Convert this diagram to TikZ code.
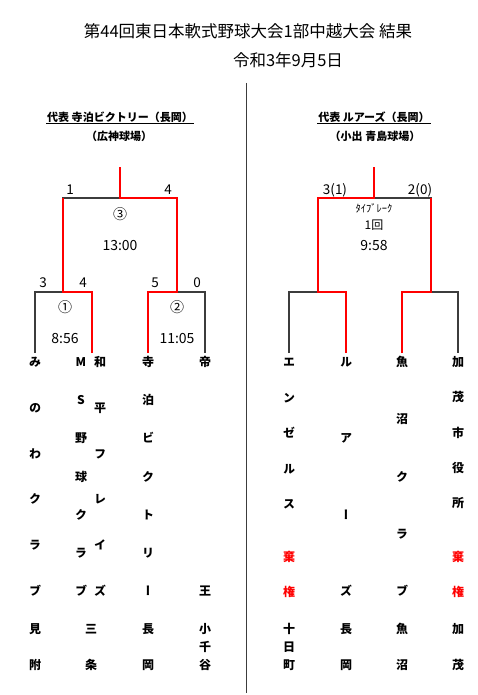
\documentclass[tikz,border=0pt]{standalone}
\usepackage{fontspec}
\newfontfamily\jpfont{Noto Sans CJK JP}
\newfontfamily\jpvert{Noto Sans CJK JP}[RawFeature=+vert]
\definecolor{winner}{HTML}{ff0000}
\definecolor{bracket}{HTML}{3c3c3c}

\begin{document}
\begin{tikzpicture}[
  x=1pt, y=-1pt,
  line join=miter,
  every node/.style={font=\jpfont, inner sep=1pt},
  bracket/.style={draw=bracket, line width=1.2pt},
  winner/.style={draw=winner, line width=2.6pt},
  title/.style={font=\jpfont\fontsize{16.5}{18}\selectfont},
  header/.style={font=\jpfont\bfseries\fontsize{11}{13}\selectfont},
  score/.style={font=\jpfont\fontsize{13.5}{15}\selectfont},
  gameno/.style={font=\jpfont\fontsize{14}{16}\selectfont},
  namechar/.style={font=\jpvert\bfseries\fontsize{12}{13}\selectfont,
    inner sep=0pt, text height=9.5pt, text depth=2.5pt, outer sep=4pt},
  forfeit/.style={namechar, text=winner},
]
\useasboundingbox (0,0) rectangle (478,695);
\node[title] (title) at (248,31) {第44回東日本軟式野球大会1部中越大会 結果};
\node[title] (date) at (288,60) {令和3年9月5日};
\draw[draw=bracket, line width=1.6pt] (246.5,83) -- (246.5,693);

% left: 広神球場
\node[header] (hdL) at (120,117) {代表 寺泊ビクトリー（長岡）};
\draw[line width=0.8pt] (hdL.south west) -- (hdL.south east);
\node[header] (parkL) at (119,136) {（広神球場）};
\foreach \ch [count=\k from 0] in {み,の,わ,ク,ラ,ブ}
  \node[namechar] (minowa-\k) at (35,363+45.8*\k) {\ch};
\foreach \ch [count=\k from 0] in {M,S,野,球,ク,ラ,ブ}
  \node[namechar] (ms-\k) at (81,363+38.17*\k) {\ch};
\foreach \ch [count=\k from 0] in {和,平,フ,レ,イ,ズ}
  \node[namechar] (wahei-\k) at (100,363+45.8*\k) {\ch};
\foreach \ch [count=\k from 0] in {寺,泊,ビ,ク,ト,リ,ー}
  \node[namechar] (tera-\k) at (148,363+38.17*\k) {\ch};
\foreach \ch [count=\k from 0] in {帝,王}
  \node[namechar] (teio-\k) at (205,363+229*\k) {\ch};
\foreach \ch [count=\k from 0] in {見,附}
  \node[namechar] (mitsuke-\k) at (35,630+36*\k) {\ch};
\foreach \ch [count=\k from 0] in {三,条}
  \node[namechar] (sanjo-\k) at (91,630+36*\k) {\ch};
\foreach \ch [count=\k from 0] in {長,岡}
  \node[namechar] (nagaokaL-\k) at (148,630+36*\k) {\ch};
\foreach \ch [count=\k from 0] in {小,千,谷}
  \node[namechar] (ojiya-\k) at (205,630+18*\k) {\ch};

\coordinate (L-win) at (120,167);
\coordinate (L-top) at (120,198);
\coordinate (g1-top) at (63,198);
\coordinate (g2-top) at (177,198);
\coordinate (g1-mid) at (63,292);
\coordinate (g2-mid) at (177,292);
\coordinate (pair) at (92,353);
\draw[bracket] (minowa-0.north) |- (g1-mid) -| (pair);
\draw[bracket] (tera-0.north) |- (g2-mid) -| (teio-0.north);
\draw[bracket] (g1-mid) |- (L-top) -| (g2-mid);
\draw[winner] (pair) |- (g1-mid) -- (g1-top);
\draw[winner] (tera-0.north) |- (g2-mid) -- (g2-top) -- (L-top) -- (L-win);

\node[score] (s3a) at (70,190) {1};
\node[score] (s3b) at (168,190) {4};
\node[score] (s1a) at (43,283) {3};
\node[score] (s1b) at (83,283) {4};
\node[score] (s2a) at (155,283) {5};
\node[score] (s2b) at (197,283) {0};
\node[gameno] (g3) at (120,214) {③};
\node[gameno] (g3time) at (120,246) {13:00};
\node[gameno] (g1) at (65,307) {①};
\node[gameno] (g1time) at (65,339) {8:56};
\node[gameno] (g2) at (177,307) {②};
\node[gameno] (g2time) at (177,339) {11:05};

% right: 小出 青島球場
\node[header] (hdR) at (374,117) {代表 ルアーズ（長岡）};
\draw[line width=0.8pt] (hdR.south west) -- (hdR.south east);
\node[header] (parkR) at (375,136) {（小出 青島球場）};
\foreach \ch [count=\k from 0] in {エ,ン,ゼ,ル,ス}
  \node[namechar] (angels-\k) at (289,363+35.5*\k) {\ch};
\foreach \ch [count=\k from 0] in {ル,ア,ー,ズ}
  \node[namechar] (luas-\k) at (346,363+76.33*\k) {\ch};
\foreach \ch [count=\k from 0] in {魚,沼,ク,ラ,ブ}
  \node[namechar] (uonuma-\k) at (402,363+57.25*\k) {\ch};
\foreach \ch [count=\k from 0] in {加,茂,市,役,所}
  \node[namechar] (kamo-\k) at (458,363+35.25*\k) {\ch};
\foreach \ch [count=\k from 0] in {棄,権}
  \node[forfeit] (angelsF-\k) at (289,558+35*\k) {\ch};
\foreach \ch [count=\k from 0] in {棄,権}
  \node[forfeit] (kamoF-\k) at (458,558+35*\k) {\ch};
\foreach \ch [count=\k from 0] in {十,日,町}
  \node[namechar] (tokamachi-\k) at (289,630+18*\k) {\ch};
\foreach \ch [count=\k from 0] in {長,岡}
  \node[namechar] (nagaokaR-\k) at (346,630+36*\k) {\ch};
\foreach \ch [count=\k from 0] in {魚,沼}
  \node[namechar] (uonumaP-\k) at (402,630+36*\k) {\ch};
\foreach \ch [count=\k from 0] in {加,茂}
  \node[namechar] (kamoP-\k) at (458,630+36*\k) {\ch};

\coordinate (R-win) at (374,167);
\coordinate (R-top) at (374,198);
\coordinate (g3-top) at (318,198);
\coordinate (g4-top) at (431,198);
\coordinate (g3-mid) at (318,292);
\coordinate (g4-mid) at (431,292);
\draw[bracket] (angels-0.north) |- (g3-mid) -| (luas-0.north);
\draw[bracket] (uonuma-0.north) |- (g4-mid) -| (kamo-0.north);
\draw[bracket] (g3-mid) |- (R-top) -| (g4-mid);
\draw[winner] (luas-0.north) |- (g3-mid) -- (g3-top) -- (R-top) -- (R-win);
\draw[winner] (uonuma-0.north) |- (g4-mid) -- (g4-top);

\node[score] (s4a) at (335,190) {3(1)};
\node[score] (s4b) at (420,190) {2(0)};
\node[font=\jpfont\fontsize{10.5}{11}\selectfont] (tiebreak) at (374,208) {ﾀｲﾌﾞﾚｰｸ};
\node[font=\jpfont\fontsize{12}{14}\selectfont] (inning) at (374,225) {1回};
\node[gameno] (g4time) at (374,246) {9:58};
\end{tikzpicture}
\end{document}
